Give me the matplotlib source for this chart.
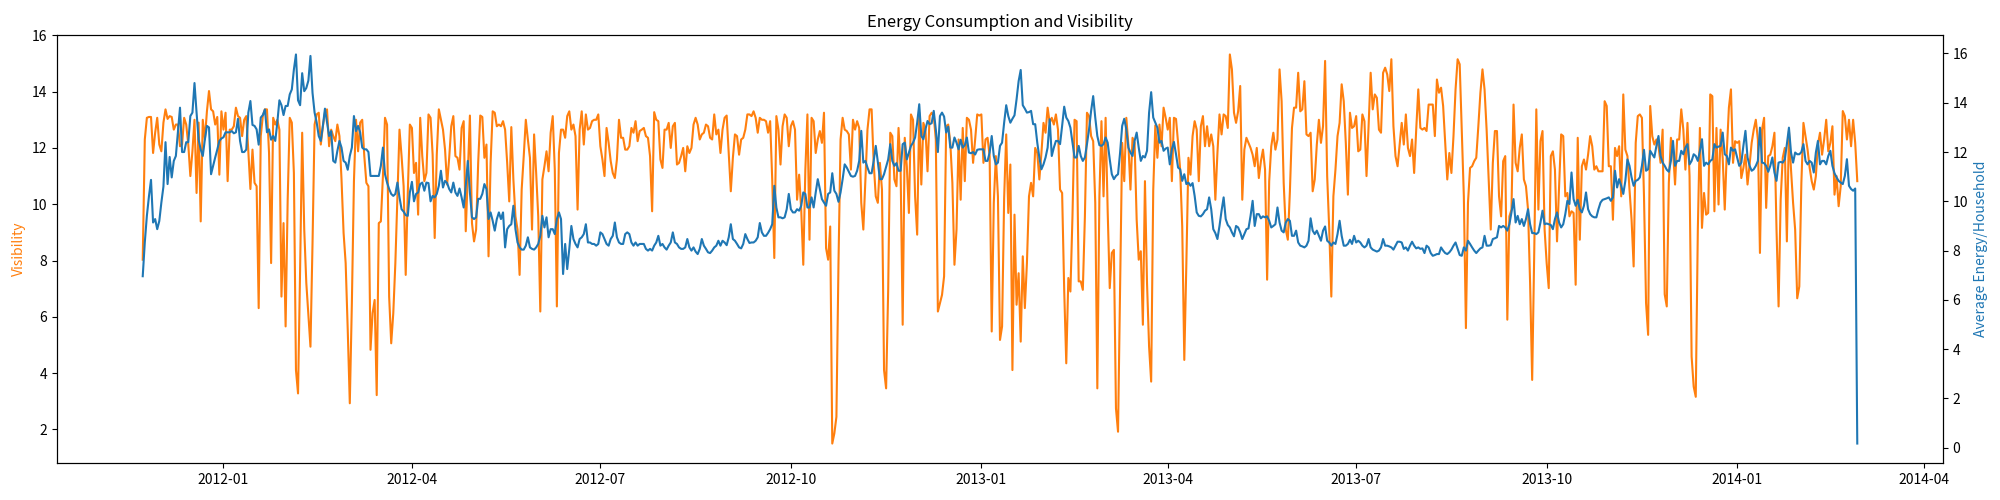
import matplotlib
matplotlib.use("Agg")
import matplotlib.pyplot as plt
import pandas as pd

plt.rcParams['font.family'] = ['Noto Sans CJK SC', 'DejaVu Sans']
plt.rcParams['axes.unicode_minus'] = False

start_date = "2011-11-23"

visibility = [
    8.03, 12.3, 13.07, 13.1, 13.1, 11.82, 12.54, 13.07, 12.12, 11.88,
    12.9, 13.37, 13.03, 13.13, 13.1, 12.65, 12.83, 12.83, 12.06, 12.12,
    13.07, 12.83, 12.12, 11.0, 11.88, 13.0, 10.4, 12.9, 9.39, 13.0,
    12.3, 13.3, 14.02, 13.37, 13.3, 12.83, 13.1, 11.05, 13.3, 12.65,
    13.25, 10.82, 12.65, 12.65, 12.77, 13.43, 13.13, 13.07, 12.42, 13.0,
    13.13, 11.88, 10.54, 11.94, 10.76, 10.64, 6.31, 12.42, 13.13, 13.37,
    13.37, 11.82, 7.91, 13.07, 12.83, 13.0, 12.65, 6.72, 9.33, 5.66,
    10.16, 13.07, 12.9, 11.11, 4.11, 3.28, 7.67, 12.54, 9.1, 7.2,
    6.07, 4.94, 8.62, 12.83, 13.19, 13.25, 12.12, 12.77, 13.25, 13.37,
    12.06, 12.65, 12.42, 12.24, 12.83, 12.42, 10.88, 8.98, 7.91, 5.54,
    2.93, 6.49, 10.82, 13.0, 11.88, 12.9, 13.0, 11.71, 10.76, 10.64,
    4.83, 6.13, 6.6, 3.22, 9.33, 9.39, 11.0, 13.07, 12.83, 6.72,
    5.06, 6.13, 7.91, 10.28, 12.65, 11.71, 10.64, 7.49, 10.4, 12.83,
    12.71, 11.11, 11.47, 9.63, 13.07, 11.71, 10.82, 11.11, 13.19, 13.07,
    11.76, 8.8, 11.76, 13.37, 13.0, 12.65, 11.94, 10.7, 11.65, 12.77,
    13.13, 11.71, 11.65, 11.23, 12.71, 12.95, 9.04, 11.11, 13.15, 9.33,
    8.68, 9.1, 11.47, 13.15, 13.1, 11.65, 12.12, 8.15, 11.47, 13.3,
    13.25, 12.77, 12.83, 12.77, 12.95, 12.65, 11.47, 10.1, 12.74, 10.88,
    9.57, 9.1, 7.49, 10.52, 11.71, 13.0, 12.3, 11.65, 9.1, 12.48,
    11.11, 9.57, 6.19, 10.88, 11.35, 11.88, 11.17, 12.54, 13.13, 11.23,
    6.37, 11.82, 12.65, 12.65, 12.36, 13.13, 13.3, 12.65, 12.83, 12.42,
    9.81, 12.65, 13.3, 12.12, 13.19, 12.65, 12.71, 12.95, 13.0, 13.0,
    13.19, 12.06, 11.59, 11.0, 12.71, 12.18, 11.53, 11.11, 10.93, 11.59,
    13.0, 12.36, 12.36, 11.94, 11.94, 12.06, 12.71, 12.54, 12.95, 12.24,
    12.6, 12.65, 12.71, 12.42, 12.36, 11.71, 9.75, 13.27, 13.0, 12.95,
    11.59, 11.29, 12.65, 12.65, 12.89, 12.0, 12.77, 12.89, 11.41, 11.47,
    11.71, 12.0, 11.17, 12.06, 11.82, 12.0, 12.83, 13.07, 12.83, 12.3,
    12.48, 12.54, 12.83, 12.77, 12.36, 12.3, 13.19, 12.48, 12.65, 11.82,
    12.65, 13.07, 13.15, 11.82, 10.46, 11.65, 12.48, 12.42, 11.76, 12.3,
    12.36, 12.65, 13.19, 13.19, 13.13, 13.3, 13.07, 12.54, 13.07, 13.0,
    13.0, 12.95, 12.54, 12.95, 10.88, 8.09, 13.13, 12.65, 11.41, 12.77,
    13.19, 13.07, 12.06, 12.77, 12.95, 12.65, 10.16, 11.05, 9.81, 7.85,
    11.23, 13.19, 8.74, 13.07, 12.95, 11.82, 12.3, 12.6, 12.18, 13.25,
    8.44, 8.03, 9.21, 1.5, 1.86, 2.45, 7.91, 12.3, 13.07, 12.65,
    12.6, 12.48, 11.23, 13.0, 12.65, 12.95, 12.71, 10.05, 9.1, 10.88,
    12.65, 13.37, 13.37, 11.47, 10.28, 10.05, 11.47, 10.52, 4.11, 3.46,
    6.96, 12.54, 12.42, 10.88, 10.64, 12.71, 11.23, 5.72, 12.36, 11.35,
    9.69, 13.19, 13.0, 10.28, 8.92, 13.25, 10.7, 12.89, 12.65, 11.17,
    13.13, 13.25, 13.13, 12.3, 6.19, 6.49, 6.78, 7.44, 12.77, 12.83,
    12.18, 10.76, 7.85, 9.1, 12.3, 10.16, 12.71, 10.82, 13.07, 13.0,
    12.65, 11.47, 12.3, 13.19, 13.15, 13.19, 11.47, 12.3, 12.36, 11.71,
    5.48, 10.05, 11.71, 10.28, 5.18, 5.66, 10.22, 12.48, 9.69, 11.41,
    4.11, 9.63, 6.43, 7.55, 5.12, 8.15, 6.31, 7.91, 10.28, 10.76,
    10.28, 12.0, 11.82, 10.88, 11.82, 12.89, 12.54, 13.43, 12.89, 13.07,
    12.83, 13.19, 12.65, 10.52, 10.4, 6.96, 4.35, 7.38, 6.9, 9.57,
    13.0, 12.95, 7.26, 7.26, 6.96, 9.57, 13.25, 13.13, 12.42, 12.24,
    10.05, 3.46, 10.28, 12.95, 10.28, 13.07, 9.75, 7.02, 8.27, 8.38,
    2.75, 1.92, 6.96, 12.18, 10.82, 13.07, 12.12, 10.52, 12.36, 12.18,
    9.45, 8.03, 8.33, 5.72, 10.82, 7.2, 4.94, 3.7, 10.5, 12.8,
    11.65, 12.83, 12.06, 13.43, 13.07, 12.65, 13.07, 10.82, 13.07, 13.03,
    12.18, 11.23, 9.21, 4.47, 7.91, 11.65, 11.05, 12.42, 12.95, 12.65,
    10.82, 12.77, 13.13, 12.06, 12.77, 12.06, 12.48, 12.06, 10.16, 11.82,
    13.19, 12.48, 13.19, 13.13, 12.71, 15.32, 14.79, 13.25, 12.89, 13.3,
    14.2, 10.16, 11.94, 12.36, 12.18, 12.0, 11.76, 11.35, 12.0, 10.93,
    11.53, 11.94, 11.23, 7.32, 10.82, 12.06, 12.54, 11.94, 12.3, 14.79,
    13.66, 10.76, 9.1, 8.74, 10.46, 12.71, 13.43, 13.43, 14.67, 13.3,
    13.37, 14.37, 12.48, 12.42, 12.54, 10.46, 10.88, 12.12, 13.0, 12.18,
    12.77, 15.09, 11.0, 9.1, 6.72, 10.28, 11.23, 12.42, 12.89, 14.26,
    13.66, 12.18, 10.34, 13.25, 12.71, 12.77, 13.13, 11.88, 11.94, 13.19,
    12.95, 11.0, 12.77, 14.67, 13.37, 13.9, 13.78, 12.65, 12.54, 14.67,
    14.85, 14.61, 14.02, 15.15, 12.77, 11.71, 11.35, 12.12, 12.89, 12.12,
    13.19, 12.0, 11.71, 12.3, 11.11, 12.65, 14.08, 12.71, 12.65, 12.71,
    12.6, 13.54, 13.54, 13.54, 12.42, 14.43, 13.96, 14.14, 13.49, 12.18,
    10.88, 11.82, 11.11, 12.42, 14.08, 15.15, 14.97, 12.65, 10.28, 5.6,
    10.05, 11.29, 11.35, 11.53, 11.65, 12.77, 13.96, 14.79, 14.08, 12.65,
    10.88, 9.1, 11.47, 12.6, 12.6, 10.28, 9.57, 11.53, 11.71, 5.9,
    9.57, 9.81, 13.54, 11.47, 11.17, 12.0, 12.48, 10.88, 10.64, 9.81,
    7.2, 3.76, 8.3, 13.37, 9.81, 12.24, 12.6, 9.1, 7.91, 7.02,
    11.71, 11.88, 11.23, 8.68, 10.64, 12.48, 12.42, 10.28, 10.4, 9.57,
    9.75, 9.69, 7.14, 12.36, 8.74, 11.35, 11.59, 11.23, 11.76, 12.42,
    12.06, 11.23, 11.35, 11.17, 11.17, 11.17, 13.66, 13.49, 11.35, 11.35,
    9.45, 12.0, 11.71, 12.06, 10.28, 13.9, 11.94, 11.71, 10.52, 9.45,
    7.79, 12.18, 13.13, 13.19, 13.07, 10.28, 6.49, 5.36, 13.49, 12.42,
    12.12, 12.3, 12.06, 11.47, 12.65, 6.8, 6.37, 10.76, 12.36, 11.94,
    10.7, 12.3, 12.3, 13.37, 12.65, 11.23, 12.89, 11.0, 4.59, 3.52,
    3.16, 9.1, 12.71, 9.16, 10.4, 9.63, 9.69, 13.9, 13.84, 9.75,
    12.71, 9.99, 12.65, 11.65, 9.81, 11.88, 13.43, 14.08, 11.47, 12.24,
    12.18, 12.24, 10.93, 11.29, 11.76, 10.7, 11.41, 12.18, 12.65, 13.0,
    12.3, 8.27, 12.65, 13.07, 9.87, 11.71, 11.76, 12.06, 12.54, 9.1,
    6.37, 10.16, 11.65, 12.0, 8.68, 12.6, 11.23, 10.05, 9.1, 6.66,
    7.08, 10.76, 12.89, 12.42, 11.94, 11.29, 10.82, 10.52, 11.0, 12.12,
    12.54, 11.76, 12.3, 13.0, 11.88, 12.18, 12.77, 10.34, 11.0, 9.93,
    10.64, 13.31, 13.13, 12.3, 13.0, 12.06, 13.0, 12.18, 10.82,
]

energy = [
    6.96, 8.33, 9.41, 10.2, 10.87, 9.14, 9.28, 8.87, 9.2, 9.95,
    10.6, 12.4, 10.7, 11.8, 10.97, 11.64, 11.84, 12.8, 13.8, 12.0,
    12.0, 12.4, 12.4, 13.46, 13.6, 14.8, 13.6, 12.5, 12.1, 11.84,
    12.5, 13.06, 13.0, 11.1, 11.44, 11.78, 12.1, 12.45, 12.55, 12.6,
    12.8, 12.8, 12.8, 12.85, 12.76, 12.8, 13.35, 12.45, 12.0, 12.0,
    12.1, 13.6, 14.07, 13.1, 13.06, 12.92, 12.3, 13.4, 13.5, 13.73,
    12.8, 12.92, 12.5, 12.65, 12.45, 13.2, 14.1, 13.9, 13.5, 13.87,
    13.87, 14.34, 14.54, 15.35, 15.96, 14.1, 13.9, 15.2, 14.47, 14.6,
    14.9, 15.9, 14.4, 13.6, 13.2, 12.65, 12.45, 13.06, 13.76, 13.2,
    12.65, 12.85, 11.64, 11.57, 12.05, 12.45, 12.18, 11.64, 11.57, 11.28,
    11.84, 12.18, 13.46, 12.85, 13.06, 12.8, 12.18, 12.11, 12.11, 12.0,
    11.03, 11.03, 11.03, 11.03, 11.03, 11.44, 12.18, 11.1, 10.76, 10.5,
    10.3, 10.22, 10.3, 10.76, 10.16, 9.68, 9.58, 9.44, 9.41, 10.36,
    10.79, 10.0, 10.3, 10.36, 10.7, 10.76, 10.43, 10.76, 10.74, 10.0,
    10.22, 10.16, 10.3, 10.63, 11.24, 10.56, 10.83, 10.74, 10.5, 10.36,
    10.76, 10.36, 10.22, 10.52, 10.16, 9.75, 10.63, 11.64, 10.36, 9.35,
    9.28, 9.35, 10.1, 10.1, 10.3, 10.7, 10.5, 9.28, 9.55, 9.21,
    8.81, 9.28, 9.55, 9.28, 9.55, 8.13, 8.87, 9.0, 9.07, 9.82,
    8.87, 8.33, 8.13, 8.04, 8.04, 8.2, 8.54, 8.13, 8.07, 8.04,
    8.13, 8.27, 8.6, 9.41, 8.94, 9.35, 8.54, 8.87, 8.87, 8.67,
    9.28, 9.55, 9.28, 7.05, 8.27, 7.25, 8.07, 9.0, 8.47, 8.27,
    8.13, 8.47, 8.54, 8.67, 9.07, 8.33, 8.33, 8.27, 8.27, 8.2,
    8.27, 8.74, 8.67, 8.47, 8.27, 8.2, 8.47, 8.6, 9.14, 8.54,
    8.33, 8.27, 8.27, 8.67, 8.74, 8.67, 8.33, 8.2, 8.33, 8.2,
    8.27, 8.27, 8.27, 8.07, 8.0, 8.07, 8.0, 8.2, 8.33, 8.6,
    8.2, 8.27, 8.13, 8.04, 8.2, 8.33, 8.74, 8.33, 8.27, 8.13,
    8.07, 8.07, 8.13, 8.47, 8.13, 8.0, 8.13, 7.96, 7.86, 8.07,
    8.47, 8.2, 8.07, 7.93, 7.9, 8.0, 8.13, 8.2, 8.4, 8.2,
    8.4, 8.33, 8.22, 8.54, 9.07, 8.47, 8.4, 8.27, 8.13, 8.09,
    8.27, 8.67, 8.47, 8.31, 8.33, 8.33, 8.4, 8.54, 9.12, 8.74,
    8.6, 8.6, 8.72, 8.87, 9.07, 10.63, 9.75, 9.35, 9.35, 9.31,
    9.35, 9.68, 10.3, 9.68, 9.55, 9.55, 9.68, 9.62, 9.82, 10.36,
    10.3, 9.75, 9.75, 10.16, 9.75, 10.36, 10.9, 10.5, 10.09, 9.95,
    9.82, 10.3, 10.36, 11.14, 10.43, 10.3, 9.98, 10.36, 10.9, 11.5,
    11.37, 11.2, 11.03, 11.0, 11.03, 11.24, 11.64, 12.86, 11.57, 11.64,
    11.37, 11.14, 11.14, 11.64, 12.25, 11.6, 10.9, 10.9, 11.1, 11.4,
    11.7, 12.32, 11.64, 11.44, 11.55, 11.24, 11.24, 12.32, 12.38, 11.7,
    11.98, 12.25, 12.38, 12.59, 13.19, 13.94, 12.65, 12.52, 12.92, 13.26,
    13.13, 13.17, 13.67, 12.92, 12.0, 13.46, 13.6, 13.44, 12.79, 13.03,
    12.18, 12.18, 12.59, 12.38, 12.11, 12.5, 12.18, 12.28, 12.59, 11.98,
    11.95, 12.0, 11.9, 12.09, 12.11, 12.11, 12.11, 11.64, 11.64, 11.98,
    12.65, 11.84, 11.5, 11.57, 12.25, 12.38, 13.19, 13.9, 13.46, 13.19,
    13.35, 13.49, 14.14, 14.88, 15.33, 13.9, 13.76, 13.6, 13.62, 13.67,
    13.13, 13.13, 12.38, 11.78, 11.3, 11.5, 11.78, 12.18, 13.33, 11.84,
    12.18, 12.45, 12.45, 12.32, 13.06, 13.84, 13.4, 13.26, 12.99, 12.38,
    11.78, 11.78, 12.25, 11.84, 11.64, 11.78, 12.32, 12.92, 13.67, 14.27,
    13.4, 12.65, 12.28, 12.25, 12.32, 12.59, 12.38, 11.7, 11.1, 10.9,
    11.03, 11.1, 11.98, 13.06, 13.35, 12.92, 12.18, 11.98, 11.84, 12.45,
    12.79, 12.18, 11.64, 11.84, 11.78, 12.05, 13.6, 14.43, 13.4, 13.19,
    12.99, 12.38, 12.45, 12.05, 12.14, 12.18, 11.5, 12.11, 12.41, 11.91,
    11.37, 11.3, 10.83, 11.1, 10.7, 10.76, 10.63, 10.74, 10.22, 9.55,
    9.41, 9.39, 9.48, 9.62, 9.68, 10.16, 9.68, 8.87, 8.71, 8.47,
    9.0, 9.62, 10.16, 9.28, 9.04, 8.94, 8.74, 8.58, 9.0, 8.94,
    8.74, 8.47, 8.67, 8.87, 8.9, 9.41, 10.02, 9.0, 9.48, 9.48,
    9.31, 9.39, 9.35, 9.39, 9.21, 8.94, 9.0, 9.07, 9.75, 9.14,
    8.81, 8.74, 9.14, 9.28, 9.21, 8.6, 8.6, 8.81, 8.33, 8.2,
    8.17, 8.13, 8.2, 8.4, 9.31, 8.81, 8.67, 8.81, 8.6, 8.4,
    8.81, 8.98, 8.4, 8.33, 8.2, 8.33, 8.27, 8.67, 9.21, 8.6,
    8.2, 8.2, 8.27, 8.44, 8.27, 8.6, 8.33, 8.4, 8.33, 8.2,
    8.13, 8.2, 8.47, 8.13, 8.04, 8.0, 7.96, 8.0, 8.13, 8.47,
    8.2, 8.2, 8.17, 8.13, 8.04, 8.2, 8.36, 8.36, 8.33, 8.07,
    8.13, 8.0, 8.2, 8.36, 8.2, 8.09, 8.13, 8.07, 8.09, 7.9,
    8.2, 8.13, 7.9, 7.79, 7.82, 7.86, 7.86, 8.13, 8.0, 7.9,
    7.86, 7.93, 8.04, 8.2, 8.33, 8.07, 7.82, 7.79, 8.13, 8.0,
    8.4, 8.27, 8.13, 8.0, 7.9, 8.0, 8.09, 8.13, 8.6, 8.2,
    8.2, 8.22, 8.47, 8.5, 8.54, 9.0, 8.94, 9.0, 8.94, 8.81,
    9.07, 9.55, 10.09, 9.14, 9.41, 9.07, 9.28, 9.0, 9.28, 9.68,
    9.07, 8.71, 8.71, 8.67, 8.74, 9.14, 9.62, 9.07, 9.1, 9.07,
    9.04, 8.87, 9.28, 9.55, 9.14, 8.94, 9.07, 9.48, 10.02, 9.89,
    11.17, 10.09, 9.82, 10.06, 9.68, 9.55, 9.82, 10.36, 9.68, 9.48,
    9.39, 9.35, 9.35, 9.68, 9.95, 10.06, 10.09, 10.12, 10.16, 10.02,
    10.16, 11.24, 10.56, 10.9, 10.63, 10.3, 10.83, 11.7, 11.44, 10.97,
    10.63, 10.83, 10.87, 10.97, 11.44, 12.09, 11.24, 11.3, 12.05, 11.91,
    11.78, 12.25, 12.65, 11.84, 11.57, 11.44, 11.28, 11.2, 11.64, 12.45,
    11.44, 11.64, 11.64, 12.05, 11.91, 12.18, 12.32, 11.5, 11.64, 11.91,
    11.84, 11.64, 12.05, 12.52, 11.44, 11.57, 11.5, 11.64, 11.7, 12.32,
    12.18, 12.22, 12.25, 12.79, 11.91, 11.84, 11.5, 12.18, 12.05, 12.11,
    11.78, 11.44, 11.57, 12.25, 12.86, 11.78, 11.44, 11.24, 11.3, 11.44,
    11.64, 12.99, 11.57, 11.55, 11.44, 11.2, 11.44, 11.78, 11.17, 10.83,
    11.57, 11.6, 11.57, 11.7, 12.32, 12.99, 11.98, 11.57, 11.98, 11.91,
    11.91, 12.0, 12.32, 11.64, 11.5, 11.64, 11.57, 11.17, 11.98, 12.45,
    11.5, 11.64, 11.64, 11.5, 11.84, 12.05, 11.44, 11.14, 10.97, 10.83,
    10.76, 10.7, 11.03, 11.71, 10.63, 10.5, 10.43, 10.52, 0.17,
]

vis_dates = pd.date_range(start_date, periods=len(visibility), freq="D")
energy_dates = pd.date_range(start_date, periods=len(energy), freq="D")

fig, ax1 = plt.subplots(figsize=(20, 5), dpi=100)
fig.subplots_adjust(left=0.0285, right=0.9715, bottom=0.074, top=0.93)

ax1.plot(vis_dates, visibility, color="tab:orange", linewidth=1.5)
ax1.set_ylabel("Visibility", color="tab:orange")
ax1.set_title("Energy Consumption and Visibility")

ax2 = ax1.twinx()
ax2.plot(energy_dates, energy, color="tab:blue", linewidth=1.5)
ax2.set_ylabel("Average Energy/Household", color="tab:blue")

fig.savefig("out.png", dpi=100)
